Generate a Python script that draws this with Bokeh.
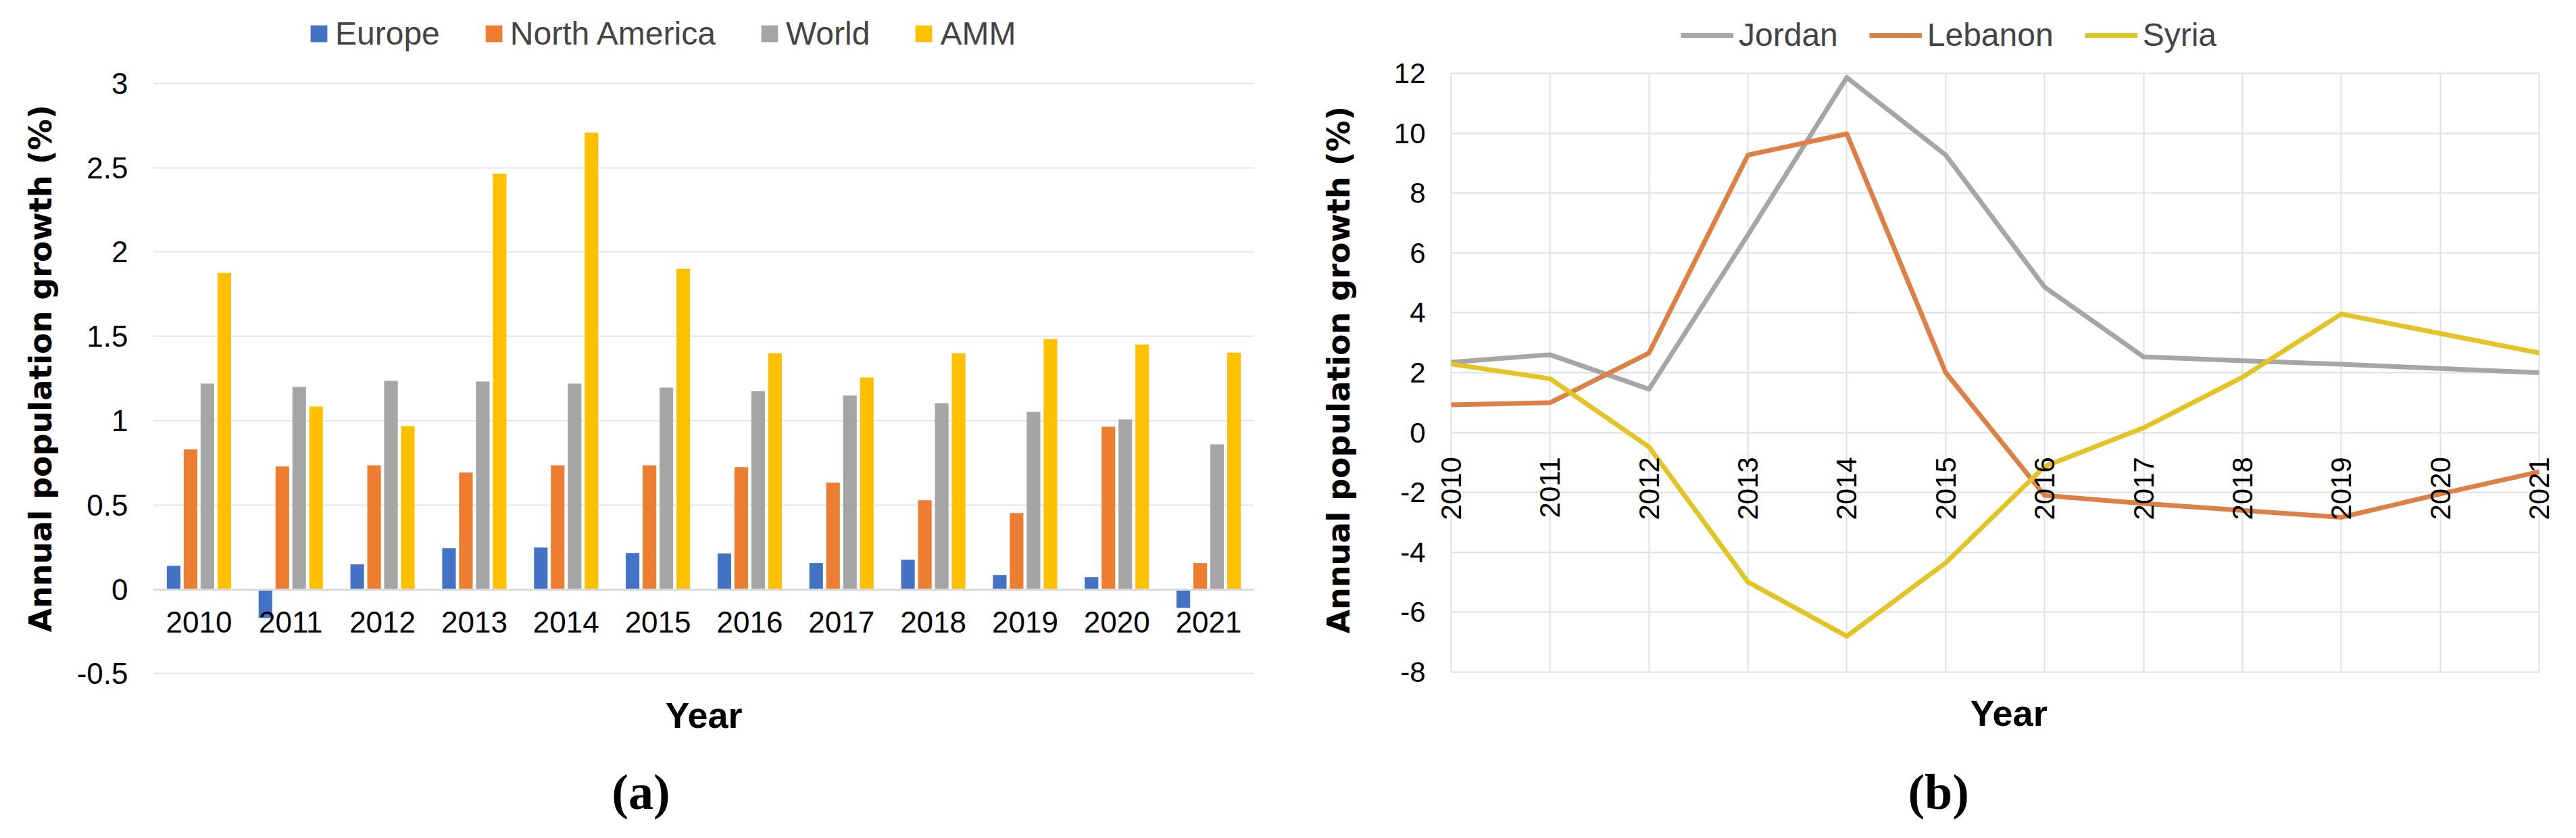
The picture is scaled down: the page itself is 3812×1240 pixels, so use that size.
import math
from bokeh.plotting import figure
from bokeh.models import (ColumnDataSource, FactorRange, Range1d, FixedTicker,
                          CustomJSTickFormatter, Legend, LegendItem, Title, Label)
from bokeh.transform import dodge
from bokeh.layouts import row
from bokeh.embed import file_html
from bokeh.resources import INLINE

# ---------------- data: panel (a) ----------------
years = ["2010", "2011", "2012", "2013", "2014", "2015",
         "2016", "2017", "2018", "2019", "2020", "2021"]
europe = [0.14, -0.17, 0.148, 0.244, 0.248, 0.216, 0.213, 0.156, 0.176, 0.084, 0.072, -0.11]
north_america = [0.83, 0.728, 0.736, 0.692, 0.736, 0.736, 0.724, 0.632, 0.528, 0.452, 0.964, 0.156]
world = [1.22, 1.20, 1.236, 1.232, 1.22, 1.196, 1.174, 1.149, 1.104, 1.052, 1.008, 0.86]
amm = [1.876, 1.084, 0.968, 2.464, 2.708, 1.90, 1.40, 1.256, 1.40, 1.484, 1.452, 1.404]
bar_ticks = [-0.5, 0, 0.5, 1, 1.5, 2, 2.5, 3]

# ---------------- data: panel (b) ----------------
line_years = [2010, 2011, 2012, 2013, 2014, 2015, 2016, 2017, 2018, 2019, 2020, 2021]
jordan = [2.35, 2.6, 1.45, 6.6, 11.86, 9.27, 4.86, 2.53, 2.40, 2.28, 2.14, 2.0]
lebanon = [0.93, 1.0, 2.66, 9.27, 9.98, 2.0, -2.1, -2.37, -2.6, -2.83, -2.05, -1.31]
syria = [2.29, 1.8, -0.48, -4.99, -6.8, -4.35, -1.13, 0.16, 1.85, 3.96, 3.31, 2.66]
line_ticks = [-8, -6, -4, -2, 0, 2, 4, 6, 8, 10, 12]

SANS = "Liberation Sans"
H = 1224
Y_TITLE = "Annual population growth (%)"


def style_y(ax, size, standoff):
    ax.formatter = CustomJSTickFormatter(code="return String(Math.round(tick*10)/10);")
    ax.major_label_text_font = SANS
    ax.major_label_text_font_size = size
    ax.major_label_text_color = "black"
    ax.axis_line_color = None
    ax.major_tick_line_color = None
    ax.minor_tick_line_color = None
    ax.major_tick_out = 0
    ax.major_tick_in = 0
    ax.major_label_standoff = standoff


def y_title(offset, standoff):
    return Title(text=Y_TITLE, align="left", vertical_align="bottom", offset=offset,
                 standoff=standoff, text_font="DejaVu Sans", text_font_size="46px",
                 text_font_style="bold", text_color="black")


def tick_axis(ax, size, standoff):
    ax.fixed_location = 0
    ax.major_label_text_font = SANS
    ax.major_label_text_font_size = size
    ax.major_label_text_color = "black"
    ax.major_tick_line_color = None
    ax.minor_tick_line_color = None
    ax.major_tick_out = 0
    ax.major_tick_in = 0
    ax.major_label_standoff = standoff


def legend(items, **kw):
    return Legend(items=items, orientation="horizontal", padding=0, margin=0,
                  border_line_color=None, background_fill_alpha=0,
                  label_text_font=SANS, label_text_font_size="48px", **kw)


def year_label(x, y):
    return Label(x=x, y=y, text="Year", text_font=SANS, text_font_size="54px",
                 text_font_style="bold", text_color="black", text_align="center",
                 text_baseline="middle")


def panel_label(x, y, text):
    return Label(x=x, y=y, text=text, text_font="Liberation Serif", text_font_size="74px",
                 text_font_style="bold", text_color="black", text_align="center",
                 text_baseline="middle")


# ================= panel (a) =================
# value axis: 3 .. -0.5 at 250 px per unit; frame extended to hold legend and captions
p1 = figure(width=1898, height=H,
            x_range=FactorRange(factors=years), y_range=Range1d(-1.412, 3.492),
            output_backend="svg", toolbar_location=None,
            min_border_left=226, min_border_right=42,
            min_border_top=0, min_border_bottom=0)
p1.outline_line_color = None
p1.background_fill_color = "white"
p1.border_fill_color = "white"

src1 = ColumnDataSource(dict(year=years, europe=europe, na=north_america,
                             world=world, amm=amm))
series1 = [("europe", "Europe", "#4472C4", -0.276),
           ("na", "North America", "#ED7D31", -0.092),
           ("world", "World", "#A5A5A5", 0.092),
           ("amm", "AMM", "#FFC000", 0.276)]
items1 = []
for key, label, color, off in series1:
    r = p1.vbar(x=dodge("year", off, range=p1.x_range), top=key, bottom=0,
                width=0.148, source=src1, fill_color=color, line_color=None)
    items1.append(LegendItem(label=label, renderers=[r]))

p1.add_layout(legend(items1, location=(230, 1147), glyph_width=31, glyph_height=31,
                     label_standoff=9, spacing=64))

p1.yaxis.ticker = FixedTicker(ticks=bar_ticks)
style_y(p1.yaxis[0], "44px", 37)
p1.add_layout(y_title(289, 48), "left")
p1.ygrid.grid_line_color = "#E5E5E5"
p1.ygrid.grid_line_width = 2
p1.xgrid.grid_line_color = None

tick_axis(p1.xaxis[0], "44px", 33)
p1.xaxis.axis_line_color = "#D9D9D9"
p1.xaxis.axis_line_width = 3

p1.add_layout(year_label(6.0, -0.746))
p1.add_layout(panel_label(5.315, -1.202, "(a)"))

# ================= panel (b) =================
p2 = figure(width=1898, height=H,
            x_range=Range1d(2009.795, 2021.266), y_range=Range1d(-13.192, 14.438),
            output_backend="svg", toolbar_location=None,
            min_border_left=219, min_border_right=0,
            min_border_top=0, min_border_bottom=0)
p2.outline_line_color = None
p2.background_fill_color = "white"
p2.border_fill_color = "white"

src2 = ColumnDataSource(dict(year=line_years, jordan=jordan, lebanon=lebanon, syria=syria))

# grid limited to the data area (2010..2021, -8..12)
grid_color = "#E0E0E0"
p2.xgrid.ticker = FixedTicker(ticks=line_years)
p2.ygrid.ticker = FixedTicker(ticks=line_ticks)
try:
    p2.xgrid.cross_bounds = (line_ticks[0], line_ticks[-1])
    p2.ygrid.cross_bounds = (line_years[0], line_years[-1])
    p2.grid.grid_line_color = grid_color
    p2.grid.grid_line_width = 2
except Exception:
    p2.grid.grid_line_color = None
    p2.segment(x0=line_years, x1=line_years, y0=line_ticks[0], y1=line_ticks[-1],
               line_color=grid_color, line_width=2)
    p2.segment(x0=line_years[0], x1=line_years[-1], y0=line_ticks, y1=line_ticks,
               line_color=grid_color, line_width=2)

series2 = [("jordan", "Jordan", "#A6A6A6"),
           ("lebanon", "Lebanon", "#DC8045"),
           ("syria", "Syria", "#E4C424")]
items2 = []
for key, label, color in series2:
    r = p2.line(x="year", y=key, source=src2, line_color=color, line_width=7,
                line_join="round")
    items2.append(LegendItem(label=label, renderers=[r]))

p2.add_layout(legend(items2, location=(370, 1145), glyph_width=78, glyph_height=54,
                     label_standoff=8, spacing=46))

p2.yaxis.ticker = FixedTicker(ticks=line_ticks)
style_y(p2.yaxis[0], "42px", 8)
p2.add_layout(y_title(287, 104), "left")

p2.xaxis.ticker = FixedTicker(ticks=line_years)
tick_axis(p2.xaxis[0], "42px", 36)
p2.xaxis.major_label_orientation = math.pi / 2
p2.xaxis.axis_line_color = None

p2.add_layout(year_label(2015.637, -9.366))
p2.add_layout(panel_label(2014.927, -12.007, "(b)"))

layout = row(p1, p2)
open("out.html", "w").write(file_html(layout, INLINE))
